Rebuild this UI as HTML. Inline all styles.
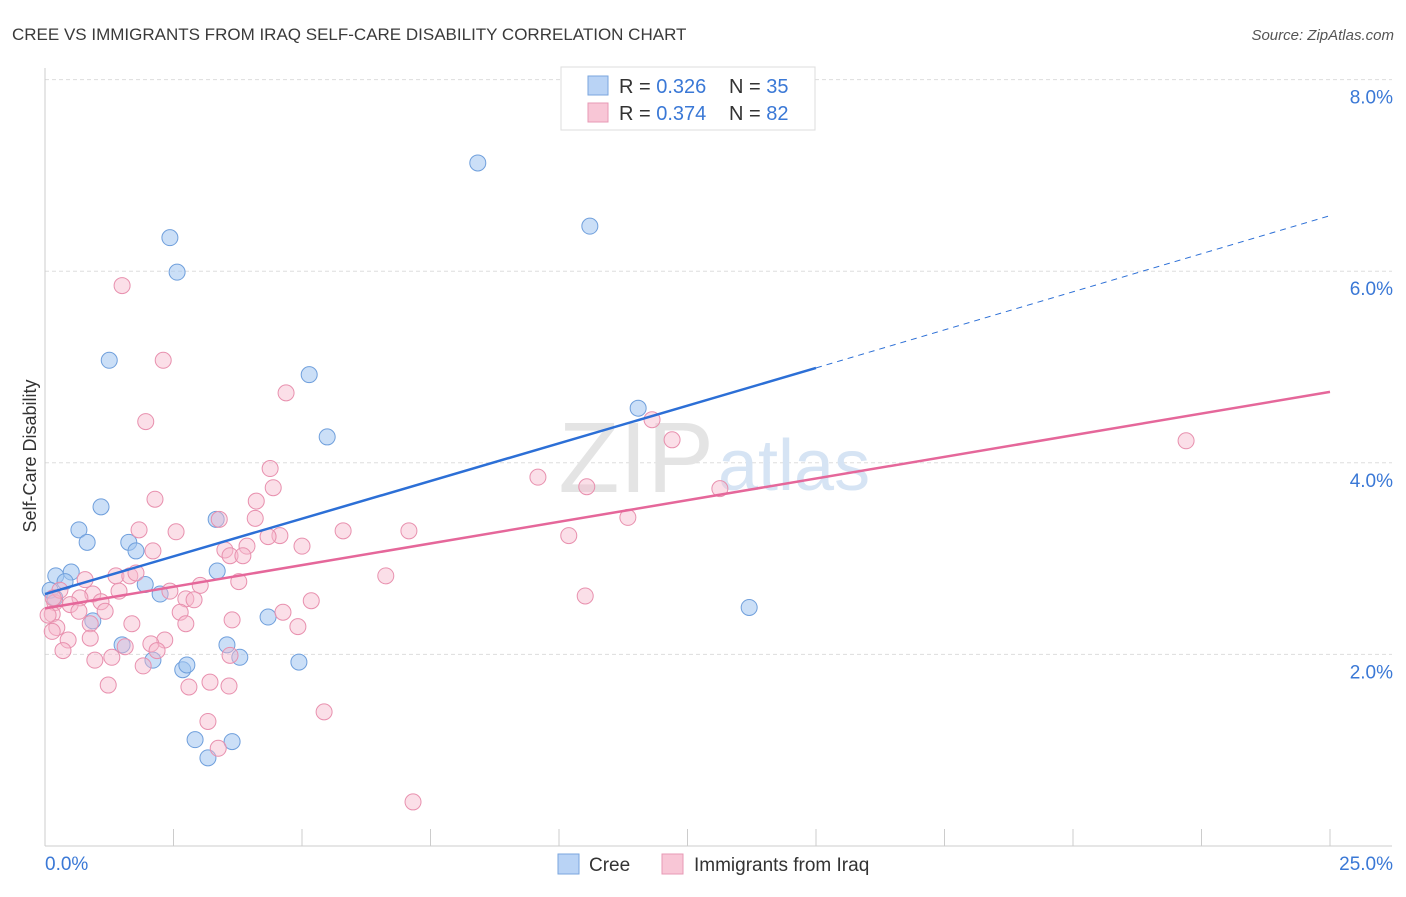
<!DOCTYPE html>
<html><head><meta charset="utf-8"><style>
body{margin:0;background:#fff;font-family:"Liberation Sans",sans-serif}
svg text{font-family:"Liberation Sans",sans-serif}
</style></head><body>
<svg id="chart" width="1406" height="892" viewBox="0 0 1406 892" xmlns="http://www.w3.org/2000/svg">
<text x="12" y="40" font-size="17" fill="#3a3a3a">CREE VS IMMIGRANTS FROM IRAQ SELF-CARE DISABILITY CORRELATION CHART</text>
<text x="1394" y="40" font-size="15" fill="#555" font-style="italic" text-anchor="end">Source: ZipAtlas.com</text>
<g id="grid"></g>
<text x="714" y="492" font-size="100" fill="#e4e4e4" text-anchor="end" font-family="Liberation Serif">ZIP</text>
<text x="718" y="490" font-size="72" fill="#d6e4f4">atlas</text>
<g id="marks"></g>
<text x="36" y="456" font-size="18" fill="#333" transform="rotate(-90 36 456)" text-anchor="middle">Self-Care Disability</text>
<g>
<rect x="561" y="67" width="254" height="63" fill="#fff" stroke="#ddd"/>
<rect x="588" y="76" width="20" height="19" fill="#b9d3f5" stroke="#7aa6de"/>
<rect x="588" y="103" width="20" height="19" fill="#f8c6d6" stroke="#e79ab5"/>
<text x="619" y="93" font-size="20" fill="#333">R = <tspan fill="#3a78d6">0.326</tspan></text>
<text x="729" y="93" font-size="20" fill="#333">N = <tspan fill="#3a78d6">35</tspan></text>
<text x="619" y="120" font-size="20" fill="#333">R = <tspan fill="#3a78d6">0.374</tspan></text>
<text x="729" y="120" font-size="20" fill="#333">N = <tspan fill="#3a78d6">82</tspan></text>
</g>
<g>
<rect x="558" y="854" width="21" height="20" fill="#b9d3f5" stroke="#7aa6de"/>
<text x="589" y="871" font-size="19" fill="#333">Cree</text>
<rect x="662" y="854" width="21" height="20" fill="#f8c6d6" stroke="#e79ab5"/>
<text x="694" y="871" font-size="19" fill="#333">Immigrants from Iraq</text>
</g>
</svg>
<script>
const yTicks=[2,4,6,8];
const yTickLabels=["2.0%","4.0%","6.0%","8.0%"];
const xTickLabels=["0.0%","25.0%"];
const creeX=[8.42,10.60,2.43,2.57,1.25,5.14,5.49,11.54,1.09,0.66,0.82,1.63,1.77,0.21,0.51,0.39,0.10,1.95,2.24,3.33,3.35,0.93,1.50,2.10,2.68,2.76,3.54,3.79,4.34,4.94,2.92,3.17,3.64,13.70,0.19];
const creeY=[7.13,6.47,6.35,5.99,5.07,4.92,4.27,4.57,3.54,3.30,3.17,3.17,3.08,2.82,2.86,2.76,2.67,2.73,2.63,3.41,2.87,2.35,2.10,1.94,1.84,1.89,2.10,1.97,2.39,1.92,1.11,0.92,1.09,2.49,2.59];
const iraqX=[1.50,2.30,1.96,4.69,4.38,2.14,4.44,4.11,4.09,3.39,2.55,1.83,5.80,7.08,9.59,10.54,12.20,11.81,22.20,13.13,11.34,10.19,6.63,10.51,5.00,4.57,4.34,3.93,3.50,3.60,3.85,2.10,1.38,1.65,1.77,3.77,3.02,2.43,1.44,0.93,0.68,0.19,1.09,0.49,0.66,1.17,0.14,2.74,2.90,2.63,5.18,4.63,3.64,2.74,1.69,0.88,0.23,0.14,0.45,0.88,2.33,2.06,1.56,2.18,0.35,1.30,0.97,1.91,1.23,2.80,3.21,3.58,3.17,5.43,3.37,7.16,4.92,0.06,0.29,0.78,0.16,3.60];
const iraqY=[5.85,5.07,4.43,4.73,3.94,3.62,3.74,3.60,3.42,3.41,3.28,3.30,3.29,3.29,3.85,3.75,4.24,4.45,4.23,3.73,3.43,3.24,2.82,2.61,3.13,3.24,3.23,3.13,3.09,3.03,3.03,3.08,2.82,2.82,2.85,2.76,2.72,2.66,2.66,2.63,2.59,2.54,2.55,2.52,2.45,2.45,2.42,2.58,2.57,2.44,2.56,2.44,2.36,2.32,2.32,2.32,2.28,2.24,2.15,2.17,2.15,2.11,2.08,2.04,2.04,1.97,1.94,1.88,1.68,1.66,1.71,1.67,1.30,1.40,1.02,0.46,2.29,2.41,2.67,2.78,2.59,1.99];
const creeTrend=[2.63,4.99,6.58]; // at x=0, 15, 25
const iraqTrend=[2.48,4.74]; // at x=0, 25
const NS="http://www.w3.org/2000/svg";
const sx=v=>45+v*51.4, sy=v=>846-v*95.8;
function mk(tag,attrs,parent){const e=document.createElementNS(NS,tag);for(const k in attrs)e.setAttribute(k,attrs[k]);parent.appendChild(e);return e;}
const grid=document.getElementById('grid'), marks=document.getElementById('marks');
yTicks.forEach((t,i)=>{
 const l=mk('line',{x1:45,x2:1392,y1:sy(t),y2:sy(t),stroke:'#ddd','stroke-dasharray':'4,3'},grid);
 
 
 const tx=mk('text',{x:1393,y:sy(t)+24,'font-size':19,fill:'#3a78d6','text-anchor':'end'},grid);
 tx.textContent=yTickLabels[i];
 
 
});
const ax=mk('line',{x1:45,x2:45,y1:68,y2:846,stroke:'#ccc'},grid);


const bx=mk('line',{x1:45,x2:1392,y1:846,y2:846,stroke:'#ccc'},grid);


for(let i=0;i<=10;i++){const v=i*2.5;const t=mk('line',{x1:sx(v),x2:sx(v),y1:829,y2:846,stroke:'#ccc'},grid);
 
 }
[[0,'start',45],[25,'end',1393]].forEach((a,i)=>{const t=mk('text',{x:a[2],y:870,'font-size':19,fill:'#3a78d6','text-anchor':a[1]},grid);t.textContent=xTickLabels[i];
 
 });
creeX.forEach((x,i)=>{const c=mk('circle',{cx:sx(x),cy:sy(creeY[i]),r:8,fill:'rgba(160,196,240,0.55)',stroke:'#6f9fdc','stroke-width':1},marks);
 
 });
iraqX.forEach((x,i)=>{const c=mk('circle',{cx:sx(x),cy:sy(iraqY[i]),r:8,fill:'rgba(246,184,204,0.45)',stroke:'#e890ae','stroke-width':1},marks);
 
 });
const l1=mk('line',{x1:sx(0),y1:sy(creeTrend[0]),x2:sx(15),y2:sy(creeTrend[1]),stroke:'#2c6fd6','stroke-width':2.5},marks);


const l2=mk('line',{x1:sx(15),y1:sy(creeTrend[1]),x2:sx(25),y2:sy(creeTrend[2]),stroke:'#2c6fd6','stroke-width':1,'stroke-dasharray':'6,5'},marks);


const l3=mk('line',{x1:sx(0),y1:sy(iraqTrend[0]),x2:sx(25),y2:sy(iraqTrend[1]),stroke:'#e5679a','stroke-width':2.5},marks);


</script>
</body></html>
